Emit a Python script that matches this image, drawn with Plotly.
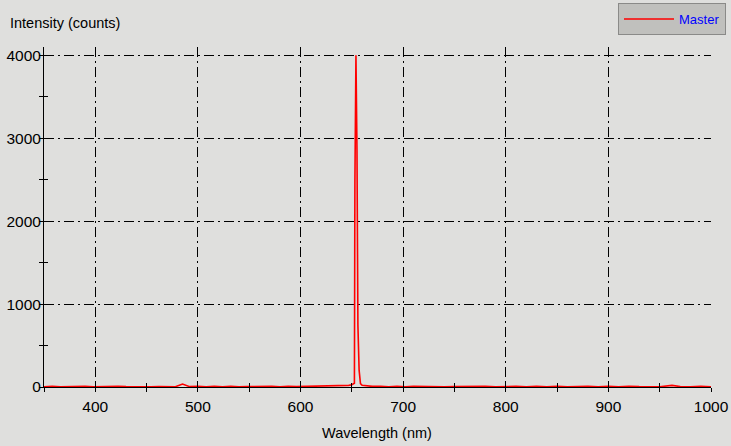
import plotly.graph_objects as go

# ---- data ----
wavelength = [350, 358, 366, 374, 382, 390, 398, 406, 414, 422, 430, 438, 446, 454, 462,
              470, 478, 485, 492, 500, 508, 516, 524, 532, 540, 548, 556, 564, 572, 580,
              588, 596, 604, 612, 618, 623, 628, 633, 638, 643, 647, 650, 652.5, 653.0,
              654.0, 655.0, 655.9, 657.1, 658.4, 660, 664, 670, 678, 686, 694, 702, 710,
              720, 730, 740, 750, 760, 770, 780, 790, 800, 810, 820, 830, 840, 850, 860,
              870, 880, 890, 900, 910, 920, 930, 940, 950, 962, 970, 980, 990, 1000]
intensity = [3, 8, 2, 6, 1, 9, 3, 6, 0, 8, 4, 2, 7, 1, 6,
             8, 3, 35, 4, 7, 1, 8, 3, 9, 2, 6, 8, 3, 7, 1,
             8, 4, 7, 12, 10, 15, 12, 16, 13, 18, 20, 28, 45, 2500,
             4000, 2850, 750, 200, 40, 20, 12, 7, 9, 3, 8, 2, 7,
             4, 9, 1, 6, 8, 3, 7, 2, 5, 8, 1, 7, 3, 9, 2,
             6, 8, 3, 7, 1, 8, 4, 7, 2, 20, 5, 3, 7, 1]

x_range = [350, 1000]
y_range = [0, 4100]
x_title = "Wavelength (nm)"
y_title = "Intensity (counts)"
series_name = "Master"

BG = "#dfdfdd"
FONT = "Liberation Sans, Arial, sans-serif"
GRIDDASH = "10px,4px,2px,4px"

W, H = 731, 446
ML, MR, MT, MB = 44, 20, 47, 59
PW, PH = W - ML - MR, H - MT - MB


def px_x(px):
    return (px - ML) / PW


def px_y(py):
    return (H - MB - py) / PH


fig = go.Figure()
fig.add_trace(go.Scatter(x=wavelength, y=intensity, mode="lines", name=series_name,
                         line=dict(color="#ff0000", width=1.6)))
# empty trace to host the overlay axes (inside half of the crossing ticks)
fig.add_trace(go.Scatter(x=[], y=[], xaxis="x2", yaxis="y2", showlegend=False,
                         hoverinfo="skip"))

axis_common = dict(showline=True, linecolor="black", linewidth=1, ticks="outside",
                   ticklen=4, tickwidth=1, tickcolor="black", zeroline=False,
                   showgrid=True, gridcolor="black", gridwidth=1, griddash=GRIDDASH,
                   tickfont=dict(family=FONT, size=15.5, color="black"), mirror=False,
                   automargin=False)

fig.update_layout(
    width=W, height=H,
    margin=dict(l=ML, r=MR, t=MT, b=MB, autoexpand=False),
    paper_bgcolor=BG, plot_bgcolor=BG,
    font=dict(family=FONT, size=14, color="black"),
    showlegend=True,
    legend=dict(x=px_x(726), y=px_y(3), xref="paper", yref="paper",
                xanchor="right", yanchor="top", bgcolor="#c0c0bd",
                bordercolor="#8a8a88", borderwidth=1,
                font=dict(family=FONT, size=13, color="#0000ff"), itemwidth=50),
    xaxis=dict(range=x_range, dtick=100, tick0=0, ticklabelstandoff=1,
               minor=dict(dtick=50, tick0=0, ticks="outside", ticklen=4,
                          tickcolor="black", showgrid=False), **axis_common),
    yaxis=dict(range=y_range, dtick=1000, tick0=0, ticklabelstandoff=-5,
               minor=dict(dtick=500, tick0=0, ticks="outside", ticklen=4,
                          tickcolor="black", showgrid=False), **axis_common),
    xaxis2=dict(range=x_range, overlaying="x", anchor="y2", side="bottom",
                dtick=100, tick0=0, ticks="inside", ticklen=4, tickcolor="black",
                showticklabels=False, showgrid=False, showline=False, zeroline=False,
                minor=dict(dtick=50, tick0=0, ticks="inside", ticklen=4,
                           tickcolor="black", showgrid=False)),
    yaxis2=dict(range=y_range, overlaying="y", anchor="x2", side="left",
                dtick=1000, tick0=0, ticks="inside", ticklen=4, tickcolor="black",
                showticklabels=False, showgrid=False, showline=False, zeroline=False,
                minor=dict(dtick=500, tick0=0, ticks="inside", ticklen=4,
                           tickcolor="black", showgrid=False)),
    annotations=[
        dict(text=y_title, x=px_x(8), y=px_y(23), xref="paper", yref="paper",
             xanchor="left", yanchor="middle", showarrow=False,
             font=dict(family=FONT, size=14.5, color="black")),
        dict(text=x_title, x=px_x(377), y=px_y(433), xref="paper", yref="paper",
             xanchor="center", yanchor="middle", showarrow=False,
             font=dict(family=FONT, size=14.5, color="black")),
    ],
)

page_css = ("document.body.style.margin='0';"
            "document.body.style.overflow='hidden';"
            "document.body.style.background='" + BG + "';")
fig.write_html("out.html", post_script=page_css, config={"displayModeBar": False})
